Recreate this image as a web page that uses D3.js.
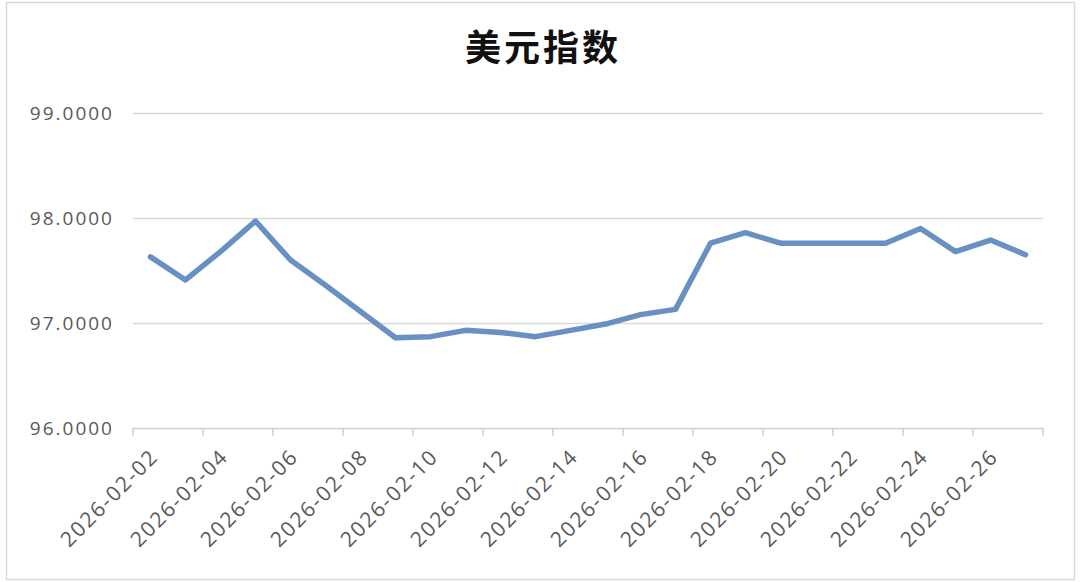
<!DOCTYPE html>
<html>
<head>
<meta charset="utf-8">
<script src="https://cdn.jsdelivr.net/npm/d3@7/dist/d3.min.js"></script>
<style>
  html, body { margin: 0; padding: 0; background: #fff; }
  svg { display: block; }
</style>
</head>
<body>
<svg id="chart" width="1080" height="582"></svg>
<script>
const title = "美元指数";
const dates = [
  "2026-02-02","2026-02-03","2026-02-04","2026-02-05","2026-02-06","2026-02-07",
  "2026-02-08","2026-02-09","2026-02-10","2026-02-11","2026-02-12","2026-02-13",
  "2026-02-14","2026-02-15","2026-02-16","2026-02-17","2026-02-18","2026-02-19",
  "2026-02-20","2026-02-21","2026-02-22","2026-02-23","2026-02-24","2026-02-25",
  "2026-02-26","2026-02-27"
];
const values = [
  97.63, 97.41, 97.68, 97.97, 97.60, 97.36,
  97.11, 96.86, 96.87, 96.93, 96.91, 96.87,
  96.93, 96.99, 97.08, 97.13, 97.76, 97.86,
  97.76, 97.76, 97.76, 97.76, 97.90, 97.68,
  97.79, 97.65
];
const yTicks = [96, 97, 98, 99];

(function () {
const svg = d3.select("#chart");
const pL = 133, pR = 1043, pT = 113, pB = 428;

// frame
svg.append("rect").attr("x", 6.5).attr("y", 2.5).attr("width", 1068).attr("height", 577)
  .attr("fill", "#fff").attr("stroke", "#d9d9d9").attr("stroke-width", 1.5);

// title
svg.append("text").attr("x", 543).attr("y", 61).attr("text-anchor", "middle")
  .attr("font-family", "'Noto Sans CJK SC', sans-serif").attr("font-weight", "bold")
  .attr("font-size", 36).attr("letter-spacing", 3).attr("fill", "#111")
  .text(title);

const x = d3.scaleBand().domain(dates).range([pL, pR]).paddingInner(0).paddingOuter(0);
const y = d3.scaleLinear().domain([96, 99]).range([pB, pT]);

// gridlines
svg.append("g").selectAll("line").data(yTicks.filter(t => t !== 96)).join("line")
  .attr("x1", pL).attr("x2", pR)
  .attr("y1", d => y(d) + 0.5).attr("y2", d => y(d) + 0.5)
  .attr("stroke", "#d9d9d9").attr("stroke-width", 1.5);

// y axis labels
const yAxis = d3.axisLeft(y).tickValues(yTicks).tickFormat(d3.format(".4f")).tickSize(0).tickPadding(0);
const gy = svg.append("g").attr("transform", `translate(${pL - 19},0)`).call(yAxis);
gy.select(".domain").remove();
gy.selectAll("text").attr("font-family", "'Open Sans', sans-serif").attr("font-size", 19)
  .attr("letter-spacing", 2).attr("fill", "#595959");

// x axis
const bw = x.bandwidth();
const gx = svg.append("g");
gx.append("line").attr("x1", pL).attr("x2", pR).attr("y1", pB + 0.5).attr("y2", pB + 0.5)
  .attr("stroke", "#d0d0d0").attr("stroke-width", 1.5);
const tickPos = dates.filter((d, i) => i % 2 === 0).map(d => x(d)).concat([pR]);
gx.selectAll("line.tick").data(tickPos).join("line").attr("class", "tick")
  .attr("x1", d => d).attr("x2", d => d).attr("y1", pB).attr("y2", pB + 8)
  .attr("stroke", "#d0d0d0").attr("stroke-width", 1.5);
gx.selectAll("text").data(dates.filter((d, i) => i % 2 === 0)).join("text")
  .attr("transform", d => `translate(${x(d) + bw / 2 + 9},${pB + 30}) rotate(-45)`)
  .attr("text-anchor", "end")
  .attr("font-family", "'Open Sans', sans-serif").attr("font-size", 21)
  .attr("letter-spacing", 1.8)
  .attr("fill", "#595959")
  .text(d => d);

// line
const line = d3.line().x((d, i) => x(dates[i]) + bw / 2).y(d => y(d));
svg.append("path").datum(values).attr("d", line).attr("fill", "none")
  .attr("stroke", "#6890c2").attr("stroke-width", 5.5).attr("stroke-linejoin", "round")
  .attr("stroke-linecap", "round");
})();
</script>
</body>
</html>
